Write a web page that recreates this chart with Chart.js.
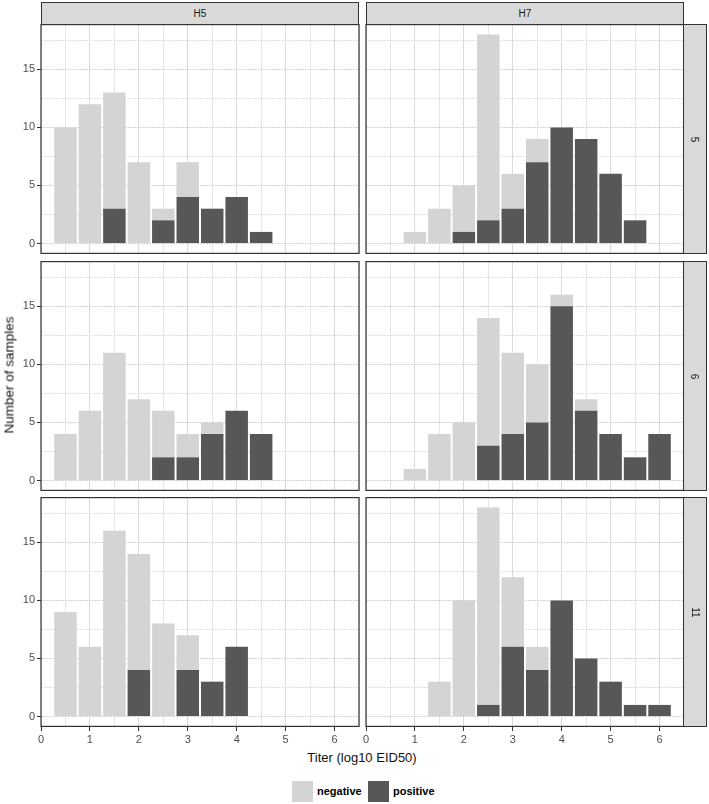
<!DOCTYPE html>
<html>
<head>
<meta charset="utf-8">
<script src="https://cdn.jsdelivr.net/npm/chart.js@4.4.1/dist/chart.umd.min.js"></script>
<style>
  body { margin: 0; background: #fff; font-family: "Liberation Sans", Arial, sans-serif; }
  #fig { position: relative; width: 709px; height: 804px; overflow: hidden; }
  #fig canvas { position: absolute; }
  .strip { position: absolute; box-sizing: border-box; border: 1px solid #333; background: #d9d9d9;
           color: #1a1a1a; font-size: 10px; display: flex; align-items: center; justify-content: center; }
  .strip.side span { display: block; transform: rotate(90deg); }
  .title { position: absolute; color: #111; white-space: nowrap; font-weight: normal; }
  .key { position: absolute; width: 21px; height: 21px; }
  .keytxt { position: absolute; font-size: 11px; font-weight: bold; color: #000; }
</style>
</head>
<body>
<div id="fig"></div>
<script>
// x = titer (log10 EID50), one bar every half log
const titers = [0.5, 1, 1.5, 2, 2.5, 3, 3.5, 4, 4.5, 5, 5.5, 6];
const subtypes = ['H5', 'H7'];
const days = ['5', '6', '11'];

// counts per panel, negative stacked on top of positive
const h5_d5_neg  = [10, 12, 10, 7, 1, 3, 0, 0, 0, 0, 0, 0];
const h5_d5_pos  = [0, 0, 3, 0, 2, 4, 3, 4, 1, 0, 0, 0];
const h7_d5_neg  = [0, 1, 3, 4, 16, 3, 2, 0, 0, 0, 0, 0];
const h7_d5_pos  = [0, 0, 0, 1, 2, 3, 7, 10, 9, 6, 2, 0];
const h5_d6_neg  = [4, 6, 11, 7, 4, 2, 1, 0, 0, 0, 0, 0];
const h5_d6_pos  = [0, 0, 0, 0, 2, 2, 4, 6, 4, 0, 0, 0];
const h7_d6_neg  = [0, 1, 4, 5, 11, 7, 5, 1, 1, 0, 0, 0];
const h7_d6_pos  = [0, 0, 0, 0, 3, 4, 5, 15, 6, 4, 2, 4];
const h5_d11_neg = [9, 6, 16, 10, 8, 3, 0, 0, 0, 0, 0, 0];
const h5_d11_pos = [0, 0, 0, 4, 0, 4, 3, 6, 0, 0, 0, 0];
const h7_d11_neg = [0, 0, 3, 10, 17, 6, 2, 0, 0, 0, 0, 0];
const h7_d11_pos = [0, 0, 0, 0, 1, 6, 4, 10, 5, 3, 1, 1];

const negative = { H5: [h5_d5_neg, h5_d6_neg, h5_d11_neg], H7: [h7_d5_neg, h7_d6_neg, h7_d11_neg] };
const positive = { H5: [h5_d5_pos, h5_d6_pos, h5_d11_pos], H7: [h7_d5_pos, h7_d6_pos, h7_d11_pos] };

const yMax = 18;     // shared y scale (facet_grid default)
const xMax = 6.5;

const NEG_COLOR = '#d4d4d4';
const POS_COLOR = '#575757';

// layout of the grid (pixels)
const colLeft = [41, 366];
const colRight = [359, 684];
const rowTop = [24, 261, 497];
const panelH = 230;
const xAxisH = 22;

const fig = document.getElementById('fig');

const panelBorder = {
    id: 'panelBorder',
    afterDraw(chart) {
        const a = chart.chartArea
        const ctx = chart.ctx
        ctx.save()
        ctx.strokeStyle = '#333'
        ctx.lineWidth = 1.2
        ctx.strokeRect(a.left, a.top + 0.6, a.right - a.left, a.bottom - a.top - 1.2)
        ctx.restore()
    }
}

function makePanel(col, row) {
    const isLeft = col === 0
    const isBottom = row === 2
    const sub = subtypes[col]

    // canvases overlap a little so edge tick labels are not cut off
    const canvasLeft = isLeft ? 0 : colLeft[1] - 14
    const canvasW = isLeft ? colRight[0] + 7 : colRight[1] + 6 - canvasLeft
    const canvasH = panelH + (isBottom ? xAxisH : 0)

    const canvas = document.createElement('canvas')
    canvas.width = canvasW
    canvas.height = canvasH
    canvas.style.left = canvasLeft + 'px'
    canvas.style.top = rowTop[row] + 'px'
    canvas.style.width = canvasW + 'px'
    canvas.style.height = canvasH + 'px'
    fig.appendChild(canvas)

    new Chart(canvas, {
        type: 'bar',
        data: {
            labels: titers,
            datasets: [
                { label: 'positive', data: positive[sub][row], backgroundColor: POS_COLOR, borderWidth: 0 },
                { label: 'negative', data: negative[sub][row], backgroundColor: NEG_COLOR, borderWidth: 0 },
            ]
        },
        options: {
            responsive: false,
            animation: false,
            devicePixelRatio: 1,
            layout: { autoPadding: false, padding: { left: 0, top: 0, bottom: 0, right: isLeft ? 7 : 6 } },
            plugins: { legend: { display: false }, tooltip: { enabled: false } },
            datasets: { bar: { categoryPercentage: 1, barPercentage: 0.92 } },
            scales: {
                x: {
                    type: 'linear',
                    stacked: true,
                    offset: false,
                    min: 0,
                    max: xMax,
                    border: { display: false },
                    grid: {
                        offset: false,
                        lineWidth: 1,
                        color: c => (c.tick && Number.isInteger(c.tick.value)) ? '#dadada' : '#e6e6e6',
                        drawTicks: isBottom,
                        tickLength: 4,
                        tickColor: c => (c.tick && Number.isInteger(c.tick.value)) ? '#333' : 'rgba(0,0,0,0)',
                    },
                    ticks: {
                        display: isBottom,
                        stepSize: 0.5,
                        includeBounds: false,
                        autoSkip: false,
                        maxRotation: 0,
                        padding: 2,
                        color: '#4d4d4d',
                        font: { family: '"Liberation Sans", Arial, sans-serif', size: 11 },
                        callback: v => Number.isInteger(v) ? String(v) : '',
                    },
                    afterFit: s => {
                        s.height = isBottom ? xAxisH : 0
                        s.paddingLeft = 0
                        s.paddingRight = 0
                    }
                },
                y: {
                    stacked: true,
                    min: -yMax * 0.05,
                    max: yMax * 1.05,
                    // v4: border.dash styles the grid lines
                    border: { display: false, dash: [2, 1] },
                    grid: {
                        lineWidth: 1,
                        color: c => (c.tick && c.tick.value % 5 === 0) ? '#d2d2d2' : '#dfdfdf',
                        drawTicks: isLeft,
                        tickLength: 4,
                        tickColor: c => (c.tick && c.tick.value % 5 === 0) ? '#333' : 'rgba(0,0,0,0)',
                    },
                    ticks: {
                        display: isLeft,
                        stepSize: 2.5,
                        includeBounds: false,
                        autoSkip: false,
                        padding: 2,
                        color: '#4d4d4d',
                        font: { family: '"Liberation Sans", Arial, sans-serif', size: 11 },
                        callback: v => v % 5 === 0 ? String(v) : '',
                    },
                    afterFit: s => {
                        s.width = isLeft ? colLeft[0] : 14
                        s.paddingTop = 0
                        s.paddingBottom = 0
                    }
                }
            }
        },
        plugins: [panelBorder]
    })
}

for (let r = 0; r < days.length; r++) {
    for (let c = 0; c < subtypes.length; c++) makePanel(c, r)
}

// facet strips
function addDiv(cls, css, html) {
    const d = document.createElement('div')
    d.className = cls
    Object.assign(d.style, css)
    d.innerHTML = html
    fig.appendChild(d)
    return d
}
subtypes.forEach((s, c) => {
    addDiv('strip', { left: colLeft[c] + 'px', top: '2px', width: (colRight[c] - colLeft[c]) + 'px', height: '23px' }, s)
})
days.forEach((d, r) => {
    addDiv('strip side', { left: '683px', top: rowTop[r] + 'px', width: '24px', height: panelH + 'px' }, '<span>' + d + '</span>')
})

// axis titles
addDiv('title', { left: '9px', top: '375px', fontSize: '13.5px', transform: 'translate(-50%,-50%) rotate(-90deg)' }, 'Number of samples')
addDiv('title', { left: '362px', top: '757px', fontSize: '13px', transform: 'translate(-50%,-50%)' }, 'Titer (log10 EID50)')

// legend
addDiv('key', { left: '292px', top: '781px', background: NEG_COLOR }, '')
addDiv('keytxt', { left: '317px', top: '785px' }, 'negative')
addDiv('key', { left: '368px', top: '781px', background: POS_COLOR }, '')
addDiv('keytxt', { left: '393px', top: '785px' }, 'positive')
</script>
</body>
</html>
